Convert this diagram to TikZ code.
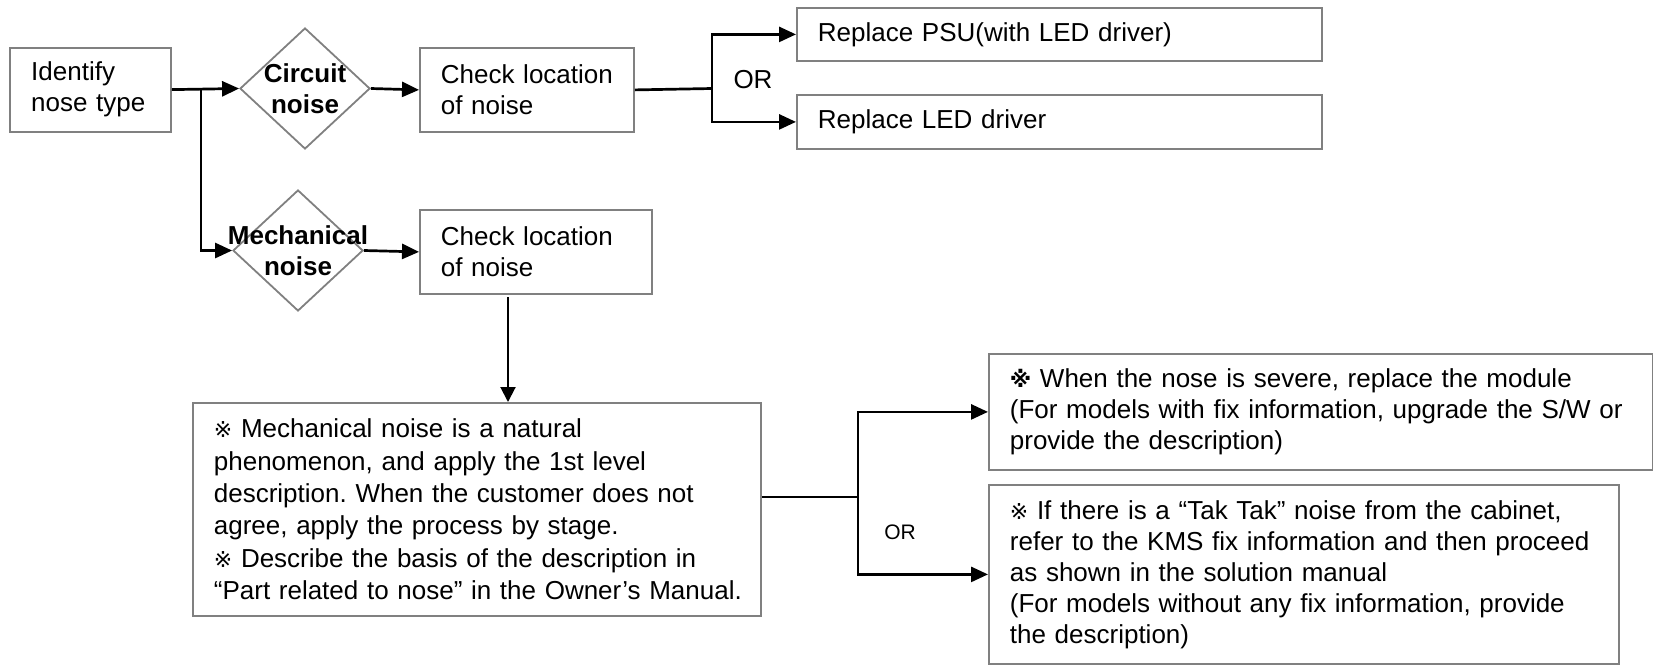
\documentclass[tikz,border=0pt]{standalone}
\usepackage{fontspec}
\setmainfont{Liberation Sans}
\newfontfamily\symf{DejaVu Sans}
\usetikzlibrary{shapes.geometric,arrows.meta}
\definecolor{bord}{RGB}{128,128,128}
\newcommand{\rmk}{{\symf\fontsize{22}{31}\selectfont ※}}
\newcommand{\rmkb}{{\symf\bfseries\fontsize{22}{31}\selectfont ※}}
\frenchspacing
\begin{document}
\begin{tikzpicture}[x=1pt,y=-1pt,
  mainfs/.style={font=\fontsize{26}{31}\selectfont},
  box/.style={draw=bord, line width=1.8pt, inner xsep=21pt, inner ysep=0pt,
    align=left, anchor=north west, mainfs,
    execute at begin node={\hyphenpenalty=10000\exhyphenpenalty=10000\hbadness=10000\hfuzz=100pt}},
  dia/.style={draw=bord, line width=1.8pt, diamond, inner sep=0pt,
    minimum width=130pt, minimum height=121pt},
  dtext/.style={font=\bfseries\fontsize{26}{31}\selectfont, align=center, inner sep=0pt},
  conn/.style={line width=2.7pt, -{Triangle[length=17pt,width=15pt]}},
  thin/.style={line width=2pt, -{Triangle[length=15pt,width=15pt]}},
  plain/.style={line width=2.7pt},
]
\useasboundingbox (0,0) rectangle (1653,665);

% nodes
\node[box, text width=118.7pt, minimum height=84pt] (id) at (9.3,46.7) {Identify\\nose type};
\node[dia] (d1) at (305,88.5) {};
\node[dtext] (d1t) at (305,88.5) {Circuit\\noise};
\node[box, text width=172pt, minimum height=84pt] (c1) at (419,47) {Check location\\of noise};
\node[box, text width=483pt, minimum height=53pt] (psu) at (796,7) {Replace PSU(with LED driver)};
\node[box, text width=483pt, minimum height=54pt] (led) at (796,94) {Replace LED driver};
\node[mainfs, inner sep=0pt] (or1) at (753,80) {OR};

\node[dia] (d2) at (298,250.5) {};
\node[dtext] (d2t) at (298,250.5) {Mechanical\\noise};
\node[box, text width=190pt, minimum height=84pt] (c2) at (419,209) {Check location\\of noise};

\node[box, text width=526pt, minimum height=213pt, font=\fontsize{26}{32.3}\selectfont] (big) at (192,402)
 {\mbox{\rmk\ Mechanical noise is a natural}\\
  \mbox{phenomenon, and apply the 1st level}\\
  \mbox{description. When the customer does not}\\
  \mbox{agree, apply the process by stage.}\\
  \mbox{\rmk\ Describe the basis of the description in}\\
  \mbox{“Part related to nose” in the Owner’s Manual.}};

\node[box, text width=622pt, minimum height=116pt] (rt) at (988,353)
 {\mbox{\rmkb\ When the nose is severe, replace the module}\\
  \mbox{(For models with fix information, upgrade the S/W or}\\
  \mbox{provide the description)}};
\node[box, text width=588pt, minimum height=179pt] (rb) at (988,484)
 {\mbox{\rmk\ If there is a “Tak Tak” noise from the cabinet,}\\
  \mbox{refer to the KMS fix information and then proceed}\\
  \mbox{as shown in the solution manual}\\
  \mbox{(For models without any fix information, provide}\\
  \mbox{the description)}};
\node[font=\fontsize{21}{25}\selectfont, inner sep=0pt] (or2) at (900,532) {OR};

% connectors
\coordinate (b1) at (201,88.5);
\coordinate (b2) at (712,88.5);
\coordinate (v1) at (508,297);
\coordinate (b3) at (858,497);

\draw[conn] (id.east) -- (d1.west);
\draw[conn] (b1) |- (d2.west);
\draw[conn] (d1.east) -- (c1.west);
\draw[plain] (c1.east) -- (b2);
\draw[conn] (b2) |- (psu.west);
\draw[conn] (b2) |- (led.west);
\draw[conn] (d2.east) -- (c2.west);
\draw[thin] (v1) -- (v1 |- big.north);
\draw[line width=1.8pt] (big.east |- b3) -- (b3);
\draw[conn] (b3) |- (rt.west);
\draw[conn] (b3) |- (rb.west);
\end{tikzpicture}
\end{document}
